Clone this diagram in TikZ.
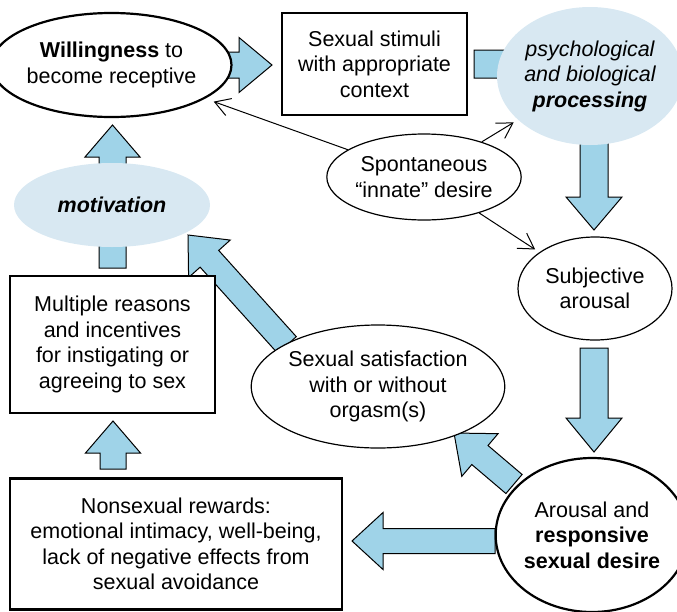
\documentclass[tikz,border=0pt]{standalone}
\usepackage{fontspec}
\setmainfont{Liberation Sans}
\usetikzlibrary{calc,arrows.meta,shapes.geometric}
\definecolor{arrowblue}{RGB}{159,211,232}
\definecolor{hazeblue}{RGB}{216,232,242}
% block arrow: tail, tip, half shaft width, half head width, head length
\newcommand\flowarrow[5]{%
  \coordinate (fa-h) at ($(#2)!#5!(#1)$);
  \draw[blockarrow] ($(#1)!#3!90:(#2)$) -- ($(fa-h)!#3!90:(#2)$)
    -- ($(fa-h)!#4!90:(#2)$) -- (#2) -- ($(fa-h)!#4!-90:(#2)$)
    -- ($(fa-h)!#3!-90:(#2)$) -- ($(#1)!#3!-90:(#2)$) -- cycle;}
\begin{document}
\begin{tikzpicture}[x=1pt,y=-1pt,
  every node/.style={font=\fontsize{21.5}{25.5}\selectfont, align=center, inner sep=0pt},
  oval/.style={ellipse, draw, fill=white, line width=1.2pt},
  boldoval/.style={oval, line width=2.2pt},
  haze/.style={ellipse, fill=hazeblue},
  box/.style={rectangle, draw, fill=white, line width=1.3pt},
  boldbox/.style={box, line width=2.5pt},
  thinarrow/.style={-{Straight Barb[length=15pt,width=18pt]}, line width=1pt},
  blockarrow/.style={draw, fill=arrowblue, line width=1pt, line join=miter}]
\useasboundingbox (0,0) rectangle (677,611);

% end points of the block arrows
\coordinate (willOut)  at (222,65);    \coordinate (stimIn)   at (272,65);
\coordinate (stimOut)  at (474,64);    \coordinate (procIn)   at (562,64);
\coordinate (procOut)  at (594,130);   \coordinate (subjIn)   at (594,230);
\coordinate (subjOut)  at (594,348);   \coordinate (arouIn)   at (594,452);
\coordinate (arouOutW) at (495,541);   \coordinate (nonsIn)   at (352,541);
\coordinate (arouOutN) at (514,484);   \coordinate (satIn)    at (454,433);
\coordinate (satOut)   at (287,345);   \coordinate (motInD)   at (188,235);
\coordinate (multOut)  at (112.5,268); \coordinate (motInB)   at (112.5,205);
\coordinate (motOut)   at (112.5,200); \coordinate (willIn)   at (112.5,125);
\coordinate (nonsOut)  at (113,469);   \coordinate (multIn)   at (113,421);

\flowarrow{willOut}{stimIn}{13pt}{27.5pt}{33pt}
\flowarrow{stimOut}{procIn}{14pt}{28pt}{30pt}
\flowarrow{procOut}{subjIn}{14pt}{28pt}{33pt}
\flowarrow{subjOut}{arouIn}{14pt}{28pt}{34pt}
\flowarrow{arouOutW}{nonsIn}{12.5pt}{28.5pt}{31pt}
\flowarrow{arouOutN}{satIn}{12.5pt}{28pt}{34pt}
\flowarrow{satOut}{motInD}{12.5pt}{28pt}{32pt}
\flowarrow{multOut}{motInB}{13.5pt}{27.5pt}{28pt}
\flowarrow{motOut}{willIn}{13.5pt}{27.5pt}{32pt}
\flowarrow{nonsOut}{multIn}{13pt}{27.5pt}{32pt}

% nodes
\node[boldoval, minimum width=203pt, minimum height=104pt] (will) at (111.5,65)
  {\textbf{Willingness} to\\become receptive};
\node[box, minimum width=185pt, minimum height=102pt] (stim) at (374.5,64)
  {Sexual stimuli\\with appropriate\\context};
\node[haze, minimum width=176pt, minimum height=138pt] (proc) at (590,76)
  {\itshape psychological\\\itshape and biological\\\bfseries\itshape processing};
\node[oval, minimum width=178pt, minimum height=86pt] (spont) at (424,177)
  {Spontaneous\\“innate” desire};
\node[oval, minimum width=154pt, minimum height=103pt] (subj) at (595,288.5)
  {Subjective\\arousal};
\node[haze, minimum width=196pt, minimum height=84pt] (mot) at (112,205)
  {\bfseries\itshape motivation};
\node[oval, minimum width=210pt, minimum height=123pt] (sat) at (378,386.5)
  {Sexual satisfaction\\with or without\\orgasm(s)};
\node[box, minimum width=205pt, minimum height=137pt] (mult) at (112.5,344.5)
  {Multiple reasons\\and incentives\\for instigating or\\agreeing to sex};
\node[boldoval, minimum width=176pt, minimum height=154pt] (arou) at (592,535)
  {Arousal and\\\textbf{responsive}\\\textbf{sexual desire}};
\node[boldbox, minimum width=332pt, minimum height=131pt] (nons) at (176,544)
  {Nonsexual rewards:\\emotional intimacy, well-being,\\lack of negative effects from\\sexual avoidance};

% thin arrows out of spontaneous desire
\draw[thinarrow, shorten >=9pt] (spont) -- (will);
\draw[thinarrow, shorten >=5pt] (spont) -- (proc);
\draw[thinarrow, shorten >=5pt] (spont) -- (subj);
\end{tikzpicture}
\end{document}
